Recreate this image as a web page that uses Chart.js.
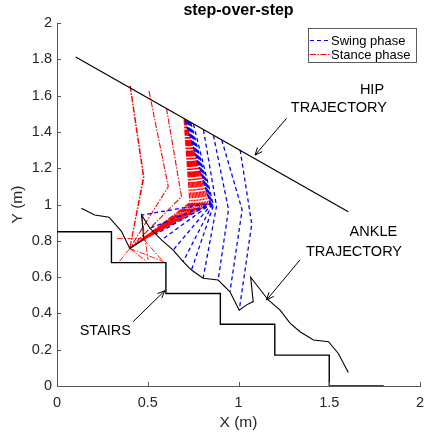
<!DOCTYPE html>
<html>
<head>
<meta charset="utf-8">
<script src="https://cdn.jsdelivr.net/npm/chart.js@4.4.1/dist/chart.umd.min.js"></script>
<style>
  html, body { margin: 0; padding: 0; background: #ffffff; }
  #wrap { width: 426px; height: 435px; }
  canvas { display: block; }
</style>
</head>
<body>
<div id="wrap"><canvas id="c" width="426" height="435"></canvas></div>
<script>
// ---------------- DATA ----------------
const chartTitle = 'step-over-step';
const xAxisTitle = 'X (m)';
const yAxisTitle = 'Y (m)';

const xTickValues = [0, 0.5, 1, 1.5, 2];
const xTickLabels = ['0', '0.5', '1', '1.5', '2'];
const yTickValues = [0, 0.2, 0.4, 0.6, 0.8, 1, 1.2, 1.4, 1.6, 1.8, 2];
const yTickLabels = ['0', '0.2', '0.4', '0.6', '0.8', '1', '1.2', '1.4', '1.6', '1.8', '2'];

// Stairs profile
const stairsX = [0, 0.3, 0.3, 0.6, 0.6, 0.9, 0.9, 1.2, 1.2, 1.5, 1.5, 1.8];
const stairsY = [0.85, 0.85, 0.68, 0.68, 0.51, 0.51, 0.34, 0.34, 0.17, 0.17, 0, 0];

// Hip trajectory
const hipTrajX = [0.103, 1.605];
const hipTrajY = [1.813, 0.960];

// Ankle trajectory
const ankleTrajX = [0.134, 0.208, 0.287, 0.355, 0.401, 0.478, 0.466, 0.512, 0.576, 0.640, 0.695, 0.741, 0.805, 0.888, 0.953, 1.004, 1.045, 1.081, 1.067, 1.164, 1.229, 1.284, 1.339, 1.413, 1.496, 1.550, 1.605];
const ankleTrajY = [0.979, 0.942, 0.930, 0.852, 0.758, 0.807, 0.942, 0.869, 0.805, 0.749, 0.685, 0.639, 0.594, 0.584, 0.519, 0.418, 0.447, 0.465, 0.599, 0.474, 0.418, 0.346, 0.299, 0.253, 0.244, 0.179, 0.074];

// Stance phase leg frames (hip -> knee -> ankle)
const stanceHipX   = [0.402, 0.404, 0.507, 0.603, 0.700, 0.700, 0.701, 0.702, 0.702, 0.703, 0.703, 0.704, 0.704, 0.705, 0.705, 0.706, 0.706];
const stanceHipY   = [1.654, 1.653, 1.625, 1.531, 1.470, 1.470, 1.470, 1.469, 1.469, 1.469, 1.468, 1.468, 1.468, 1.467, 1.467, 1.466, 1.466];
const stanceKneeX  = [0.476, 0.479, 0.613, 0.686, 0.732, 0.741, 0.750, 0.759, 0.768, 0.777, 0.786, 0.795, 0.804, 0.813, 0.822, 0.832, 0.842];
const stanceKneeY  = [1.153, 1.149, 1.098, 1.043, 1.010, 1.009, 1.009, 1.008, 1.007, 1.007, 1.006, 1.006, 1.005, 1.005, 1.004, 1.004, 1.004];
const stanceAnkleX = [0.401, 0.401, 0.401, 0.401, 0.401, 0.407, 0.413, 0.419, 0.425, 0.431, 0.437, 0.443, 0.449, 0.456, 0.462, 0.470, 0.478];
const stanceAnkleY = [0.758, 0.758, 0.758, 0.758, 0.758, 0.762, 0.766, 0.770, 0.774, 0.778, 0.782, 0.786, 0.790, 0.794, 0.798, 0.803, 0.807];

// Stance foot segments (heel/toe contacts)
const footStartX = [0.401, 0.401, 0.401, 0.478, 0.466, 0.330];
const footStartY = [0.758, 0.758, 0.758, 0.807, 0.942, 0.812];
const footEndX   = [0.337, 0.585, 0.494, 0.585, 0.502, 0.478];
const footEndY   = [0.678, 0.686, 0.686, 0.686, 0.695, 0.812];

// Swing phase leg frames (hip -> knee -> ankle)
const swingHipX   = [0.706, 0.711, 0.716, 0.722, 0.729, 0.738, 0.752, 0.807, 0.862, 0.908, 1.009];
const swingHipY   = [1.466, 1.463, 1.461, 1.458, 1.454, 1.449, 1.442, 1.411, 1.381, 1.355, 1.301];
const swingKneeX  = [0.844, 0.845, 0.847, 0.849, 0.852, 0.856, 0.862, 0.879, 0.945, 1.020, 1.073];
const swingKneeY  = [1.006, 1.005, 1.004, 1.003, 1.001, 0.999, 0.996, 0.990, 0.973, 0.970, 0.892];
const swingAnkleX = [0.466, 0.512, 0.545, 0.576, 0.640, 0.695, 0.741, 0.805, 0.888, 0.953, 1.004];
const swingAnkleY = [0.942, 0.869, 0.837, 0.805, 0.749, 0.685, 0.639, 0.594, 0.584, 0.519, 0.418];

// Legend entries
const legendLabels = ['Swing phase', 'Stance phase'];

// Annotations: text lines and arrows (data coordinates)
const noteTexts = ['HIP', 'TRAJECTORY', 'ANKLE', 'TRAJECTORY', 'STAIRS'];
const noteX     = [1.802, 1.818, 1.874, 1.901, 0.125];
const noteY     = [1.630, 1.532, 0.847, 0.740, 0.302];
const noteAlign = ['right', 'right', 'right', 'right', 'left'];
const arrowFromX = [1.265, 1.339, 0.419];
const arrowFromY = [1.475, 0.695, 0.354];
const arrowToX   = [1.091, 1.155, 0.594];
const arrowToY   = [1.272, 0.474, 0.525];

// ---------------- helpers ----------------
function polyline(xs, ys) {
  return xs.map((x, i) => ({ x: x, y: ys[i] }));
}
function frames(hx, hy, kx, ky, ax, ay) {
  const pts = [];
  for (let i = 0; i < hx.length; i++) {
    pts.push({ x: hx[i], y: hy[i] }, { x: kx[i], y: ky[i] }, { x: ax[i], y: ay[i] }, { x: null, y: null });
  }
  return pts;
}
function segments(sx, sy, ex, ey) {
  const pts = [];
  for (let i = 0; i < sx.length; i++) {
    pts.push({ x: sx[i], y: sy[i] }, { x: ex[i], y: ey[i] }, { x: null, y: null });
  }
  return pts;
}

const FONT = "'Liberation Sans', Arial, Helvetica, sans-serif";
const BLUE_DASH = [4, 3];
const RED_DASHDOT = [6, 1.5, 1.5, 1.5];

const base = { pointRadius: 0, pointHoverRadius: 0, fill: false, tension: 0, spanGaps: false };

const datasets = [
  Object.assign({}, base, { label: 'stairs', data: polyline(stairsX, stairsY), borderColor: '#000000', borderWidth: 1.4, order: 0 }),
  Object.assign({}, base, { label: 'hip', data: polyline(hipTrajX, hipTrajY), borderColor: '#000000', borderWidth: 1.2, order: 0 }),
  Object.assign({}, base, { label: 'ankle', data: polyline(ankleTrajX, ankleTrajY), borderColor: '#000000', borderWidth: 1.1, order: 0 }),
  Object.assign({}, base, { label: legendLabels[0], data: frames(swingHipX, swingHipY, swingKneeX, swingKneeY, swingAnkleX, swingAnkleY), borderColor: '#0000ff', borderWidth: 1.3, borderDash: BLUE_DASH, order: 1 }),
  Object.assign({}, base, { label: legendLabels[1], data: frames(stanceHipX, stanceHipY, stanceKneeX, stanceKneeY, stanceAnkleX, stanceAnkleY), borderColor: '#ff0000', borderWidth: 1.1, borderDash: RED_DASHDOT, order: 2 }),
  Object.assign({}, base, { label: 'foot', data: segments(footStartX, footStartY, footEndX, footEndY), borderColor: '#ff0000', borderWidth: 0.9, borderDash: RED_DASHDOT, order: 2 })
];

// ---------------- plugin: title, inward ticks, annotations, arrows, legend ----------------
const decorations = {
  id: 'decorations',
  afterDatasetsDraw(chart) {
    const ctx = chart.ctx;
    const xs = chart.scales.x, ys = chart.scales.y;
    const area = chart.chartArea;
    ctx.save();

    // title, centred over the plot area
    ctx.fillStyle = '#000000';
    ctx.font = 'bold 16px ' + FONT;
    ctx.textAlign = 'center';
    ctx.textBaseline = 'middle';
    ctx.fillText(chartTitle, (area.left + area.right) / 2, area.top - 12);

    // inward tick marks
    ctx.strokeStyle = '#555555';
    ctx.lineWidth = 1;
    ctx.beginPath();
    yTickValues.forEach(v => {
      const py = Math.round(ys.getPixelForValue(v)) + 0.5;
      ctx.moveTo(area.left, py); ctx.lineTo(area.left + 4, py);
    });
    xTickValues.forEach(v => {
      const px = Math.round(xs.getPixelForValue(v)) + 0.5;
      ctx.moveTo(px, area.bottom); ctx.lineTo(px, area.bottom - 4);
    });
    ctx.stroke();

    // annotation texts
    ctx.fillStyle = '#000000';
    ctx.font = '14.5px ' + FONT;
    ctx.textBaseline = 'middle';
    noteTexts.forEach((t, i) => {
      ctx.textAlign = noteAlign[i];
      ctx.fillText(t, xs.getPixelForValue(noteX[i]), ys.getPixelForValue(noteY[i]));
    });

    // arrows
    ctx.strokeStyle = '#000000';
    ctx.lineWidth = 1;
    ctx.setLineDash([]);
    arrowFromX.forEach((fx, i) => {
      const x0 = xs.getPixelForValue(fx), y0 = ys.getPixelForValue(arrowFromY[i]);
      const x1 = xs.getPixelForValue(arrowToX[i]), y1 = ys.getPixelForValue(arrowToY[i]);
      const ang = Math.atan2(y1 - y0, x1 - x0);
      const L = 8, w = 0.4;
      ctx.beginPath();
      ctx.moveTo(x0, y0); ctx.lineTo(x1, y1);
      ctx.moveTo(x1 - L * Math.cos(ang - w), y1 - L * Math.sin(ang - w));
      ctx.lineTo(x1, y1);
      ctx.lineTo(x1 - L * Math.cos(ang + w), y1 - L * Math.sin(ang + w));
      ctx.stroke();
    });

    // legend box
    const bx = area.right - 112, by = area.top + 5, bw = 108, bh = 34;
    ctx.fillStyle = '#ffffff';
    ctx.fillRect(bx, by, bw, bh);
    ctx.strokeStyle = '#333333';
    ctx.lineWidth = 0.8;
    ctx.strokeRect(bx + 0.5, by + 0.5, bw, bh);
    const rows = [by + 12.5, by + 26.5];
    const styles = [{ c: '#0000ff', d: BLUE_DASH, w: 1.2 }, { c: '#ff0000', d: RED_DASHDOT, w: 1 }];
    rows.forEach((ry, i) => {
      ctx.strokeStyle = styles[i].c;
      ctx.lineWidth = styles[i].w;
      ctx.setLineDash(styles[i].d);
      ctx.beginPath();
      ctx.moveTo(bx + 2, ry); ctx.lineTo(bx + 22, ry);
      ctx.stroke();
      ctx.setLineDash([]);
      ctx.fillStyle = '#000000';
      ctx.font = '13px ' + FONT;
      ctx.textAlign = 'left';
      ctx.textBaseline = 'middle';
      ctx.fillText(legendLabels[i], bx + 23, ry + 0.5);
    });
    ctx.restore();
  }
};

// ---------------- chart ----------------
new Chart(document.getElementById('c'), {
  type: 'line',
  data: { datasets: datasets },
  plugins: [decorations],
  options: {
    responsive: false,
    animation: false,
    devicePixelRatio: 1,
    layout: { padding: { left: 0, right: 6, top: 23, bottom: 0 } },
    plugins: {
      legend: { display: false },
      tooltip: { enabled: false },
      title: { display: false }
    },
    scales: {
      x: {
        type: 'linear',
        min: 0, max: 2,
        afterFit: (s) => { s.height = 49; s.paddingLeft = 0; s.paddingRight = 0; },
        afterBuildTicks: (s) => { s.ticks = xTickValues.map(v => ({ value: v })); },
        ticks: {
          color: '#262626',
          font: { family: FONT, size: 14.5 },
          padding: 8,
          maxRotation: 0,
          autoSkip: false,
          callback: (v) => { const i = xTickValues.indexOf(v); return i >= 0 ? xTickLabels[i] : ''; }
        },
        grid: { display: true, drawOnChartArea: false, drawTicks: false },
        border: { display: true, color: '#555555', width: 1 },
        title: { display: true, text: xAxisTitle, color: '#262626', font: { family: FONT, size: 15.5 }, padding: { top: 0, bottom: 3 } }
      },
      y: {
        type: 'linear',
        min: 0, max: 2,
        afterFit: (s) => { s.width = 57; s.paddingTop = 0; s.paddingBottom = 0; },
        afterBuildTicks: (s) => { s.ticks = yTickValues.map(v => ({ value: v })); },
        ticks: {
          color: '#262626',
          font: { family: FONT, size: 14.5 },
          padding: 5,
          autoSkip: false,
          callback: (v) => { const i = yTickValues.indexOf(v); return i >= 0 ? yTickLabels[i] : ''; }
        },
        grid: { display: true, drawOnChartArea: false, drawTicks: false },
        border: { display: true, color: '#555555', width: 1 },
        title: { display: true, text: yAxisTitle, color: '#262626', font: { family: FONT, size: 15.5 }, padding: { top: 8, bottom: 0 } }
      }
    }
  }
});
</script>
</body>
</html>
